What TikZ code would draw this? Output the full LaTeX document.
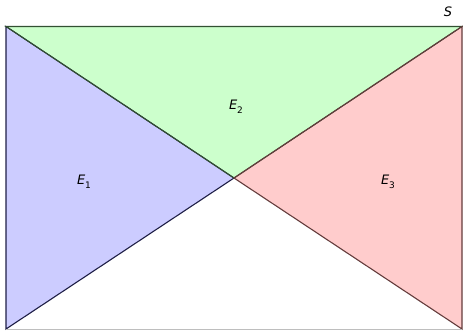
\documentclass[tikz,border=0pt]{standalone}
\usepackage{fontspec}
\setmainfont{DejaVu Sans}
\begin{document}
\begin{tikzpicture}[x=1pt,y=-1pt,
  tri/.style={line width=1.1pt, line join=miter},
  lab/.style={font=\fontsize{13}{15}\selectfont\itshape, inner sep=0pt}]
\useasboundingbox (0,0) rectangle (463,330);
\coordinate (tl) at (6,26.5);
\coordinate (tr) at (462,26.5);
\coordinate (bl) at (6,329);
\coordinate (br) at (462,329);
\coordinate (c) at (234,178);
\fill[fill={rgb,255:red,204;green,204;blue,255}] (tl) -- (c) -- (bl) -- cycle;
\fill[fill={rgb,255:red,204;green,255;blue,204}] (tl) -- (c) -- (tr) -- cycle;
\fill[fill={rgb,255:red,255;green,204;blue,204}] (tr) -- (c) -- (br) -- cycle;
\draw[tri, draw={rgb,255:red,30;green,30;blue,70}] (bl) -- (tl) -- (c) -- cycle;
\draw[tri, draw={rgb,255:red,50;green,80;blue,50}] (tl) -- (tr) -- (c) -- cycle;
\draw[tri, draw={rgb,255:red,100;green,60;blue,60}] (tr) -- (br) -- (c) -- cycle;
\draw[line width=1pt, draw={rgb,255:red,190;green,190;blue,190}] (bl) -- (br);
\node[lab] (e1) at (84,182) {E\raisebox{-0.3em}{\fontsize{9}{10}\selectfont\upshape 1}};
\node[lab] (e2) at (236,107) {E\raisebox{-0.3em}{\fontsize{9}{10}\selectfont\upshape 2}};
\node[lab] (e3) at (388,182) {E\raisebox{-0.3em}{\fontsize{9}{10}\selectfont\upshape 3}};
\node[lab] (s) at (448,12) {S};
\end{tikzpicture}
\end{document}
